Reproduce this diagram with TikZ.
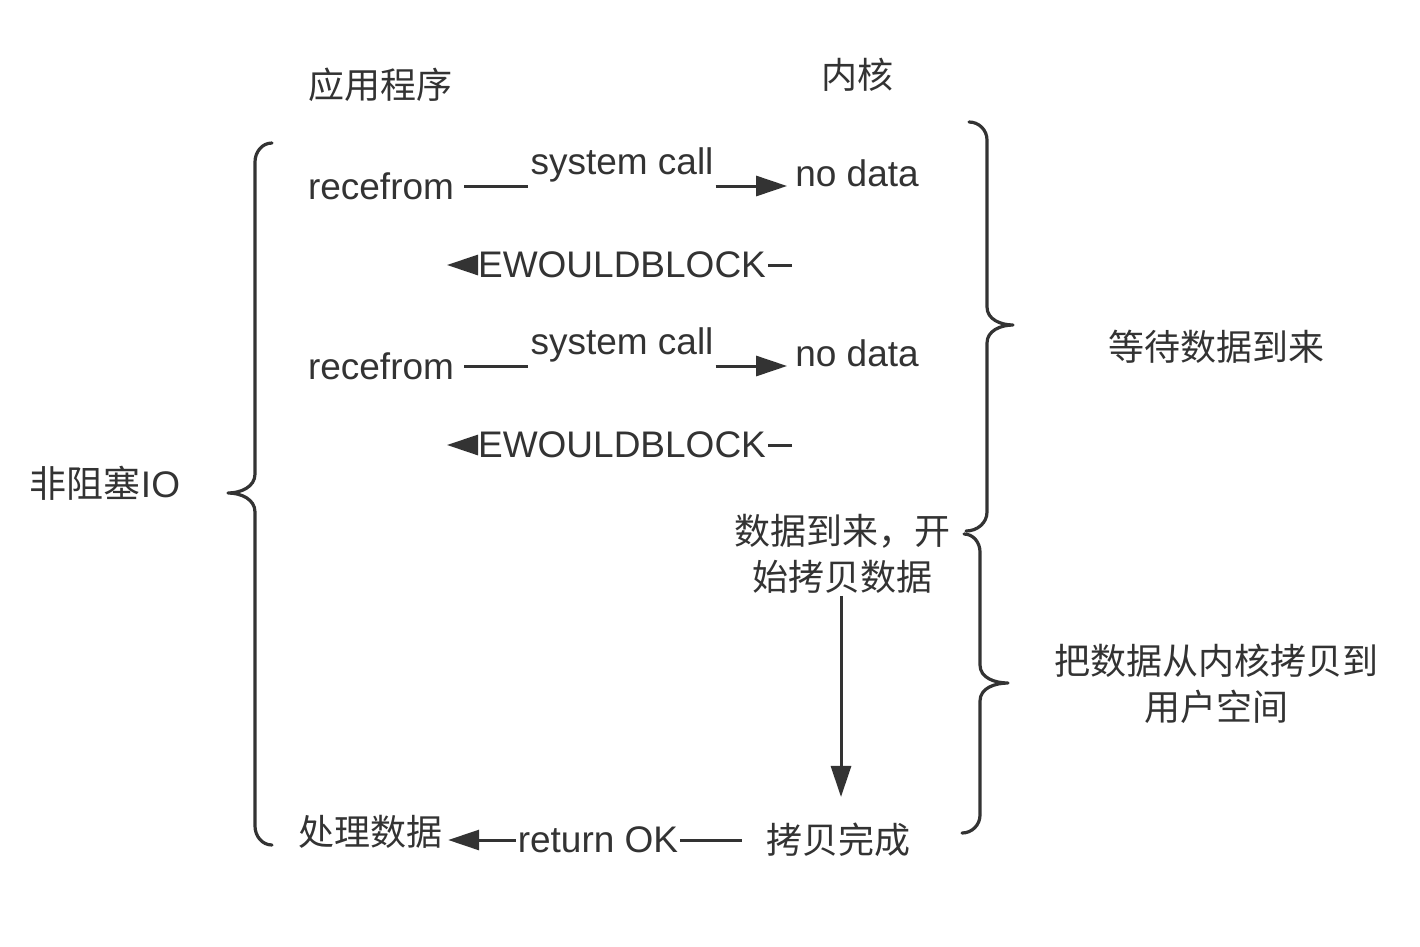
\documentclass[tikz,border=0pt]{standalone}
\usepackage{fontspec}
\setmainfont{Liberation Sans}
\newfontfamily\cjk{Noto Sans CJK SC}
\usetikzlibrary{arrows.meta}
\definecolor{ink}{HTML}{333333}
\begin{document}
\begin{tikzpicture}[x=1pt,y=-1pt,
  txt/.style={font=\fontsize{37}{42}\selectfont, text=ink, inner sep=2pt},
  cn/.style={txt, font=\fontsize{36}{46}\selectfont\cjk, align=center},
  ln/.style={draw=ink, line width=3pt},
  arr/.style={ln, -{Triangle[length=31pt,width=20pt]}},
  brace/.style={draw=ink, line width=3.2pt, line cap=round, line join=round}]
\useasboundingbox[fill=white] (0,0) rectangle (1420,946);

% headers
\node[cn] (app) at (380,85) {应用程序};
\node[cn] (ker) at (857,75) {内核};

% rows
\coordinate (r1) at (0,186);
\coordinate (e1) at (0,265);
\coordinate (r2) at (0,366);
\coordinate (e2) at (0,445);
\coordinate (r3) at (0,840);

\node[txt] (rf1) at (381,186) {recefrom};
\node[txt] (sc1) at (622,165) {system call};
\node[txt] (nd1) at (857,173) {no data};
\node[txt] (ew1) at (622,265) {EWOULDBLOCK};

\node[txt] (rf2) at (381,366) {recefrom};
\node[txt] (sc2) at (622,345) {system call};
\node[txt] (nd2) at (857,353) {no data};
\node[txt] (ew2) at (622,445) {EWOULDBLOCK};

\node[txt] (nio) at (105,483) {{\cjk 非阻塞}IO};

\node[cn] (arrive) at (842,554) {数据到来，开\\始拷贝数据};
\node[cn] (done) at (838,840) {拷贝完成};
\node[txt] (ret) at (598,840) {return OK};
\node[cn] (proc) at (370,832) {处理数据};

\node[cn] (wait) at (1216,347) {等待数据到来};
\node[cn] (copy) at (1216,684) {把数据从内核拷贝到\\用户空间};

% connectors
\coordinate (tip1) at (447,265);
\coordinate (tip2) at (447,445);
\draw[ln] ([xshift=8pt]rf1.east |- r1) -- (sc1.west |- r1);
\draw[arr] (sc1.east |- r1) -- ([xshift=-6pt]nd1.west |- r1);
\draw[ln] ([xshift=-1pt]nd1.west |- e1) -- (ew1.east);
\draw[arr] (ew1.west) -- (tip1);

\draw[ln] ([xshift=8pt]rf2.east |- r2) -- (sc2.west |- r2);
\draw[arr] (sc2.east |- r2) -- ([xshift=-6pt]nd2.west |- r2);
\draw[ln] ([xshift=-1pt]nd2.west |- e2) -- (ew2.east);
\draw[arr] (ew2.west) -- (tip2);

\draw[arr] ([xshift=-1pt]arrive.south) -- ([xshift=3pt,yshift=24pt]done.north);
\draw[ln] ([xshift=-22pt]done.west |- r3) -- (ret.east |- r3);
\draw[arr] (ret.west |- r3) -- ([xshift=4pt]proc.east |- r3);

% braces
\draw[brace] (272,143) to[out=180,in=90] (255,162) -- (255,474)
  to[out=-90,in=0] (228,493) to[out=0,in=90] (255,512) -- (255,826)
  to[out=-90,in=180] (272,845);
\draw[brace] (969,122) to[out=0,in=90] (987,140) -- (987,307)
  to[out=-90,in=180] (1013,325) to[out=180,in=90] (987,343) -- (987,512)
  to[out=-90,in=0] (966,531);
\draw[brace] (964,534) to[out=0,in=90] (980,552) -- (980,665)
  to[out=-90,in=180] (1008,683) to[out=180,in=90] (980,701) -- (980,815)
  to[out=-90,in=0] (962,833);
\end{tikzpicture}
\end{document}
